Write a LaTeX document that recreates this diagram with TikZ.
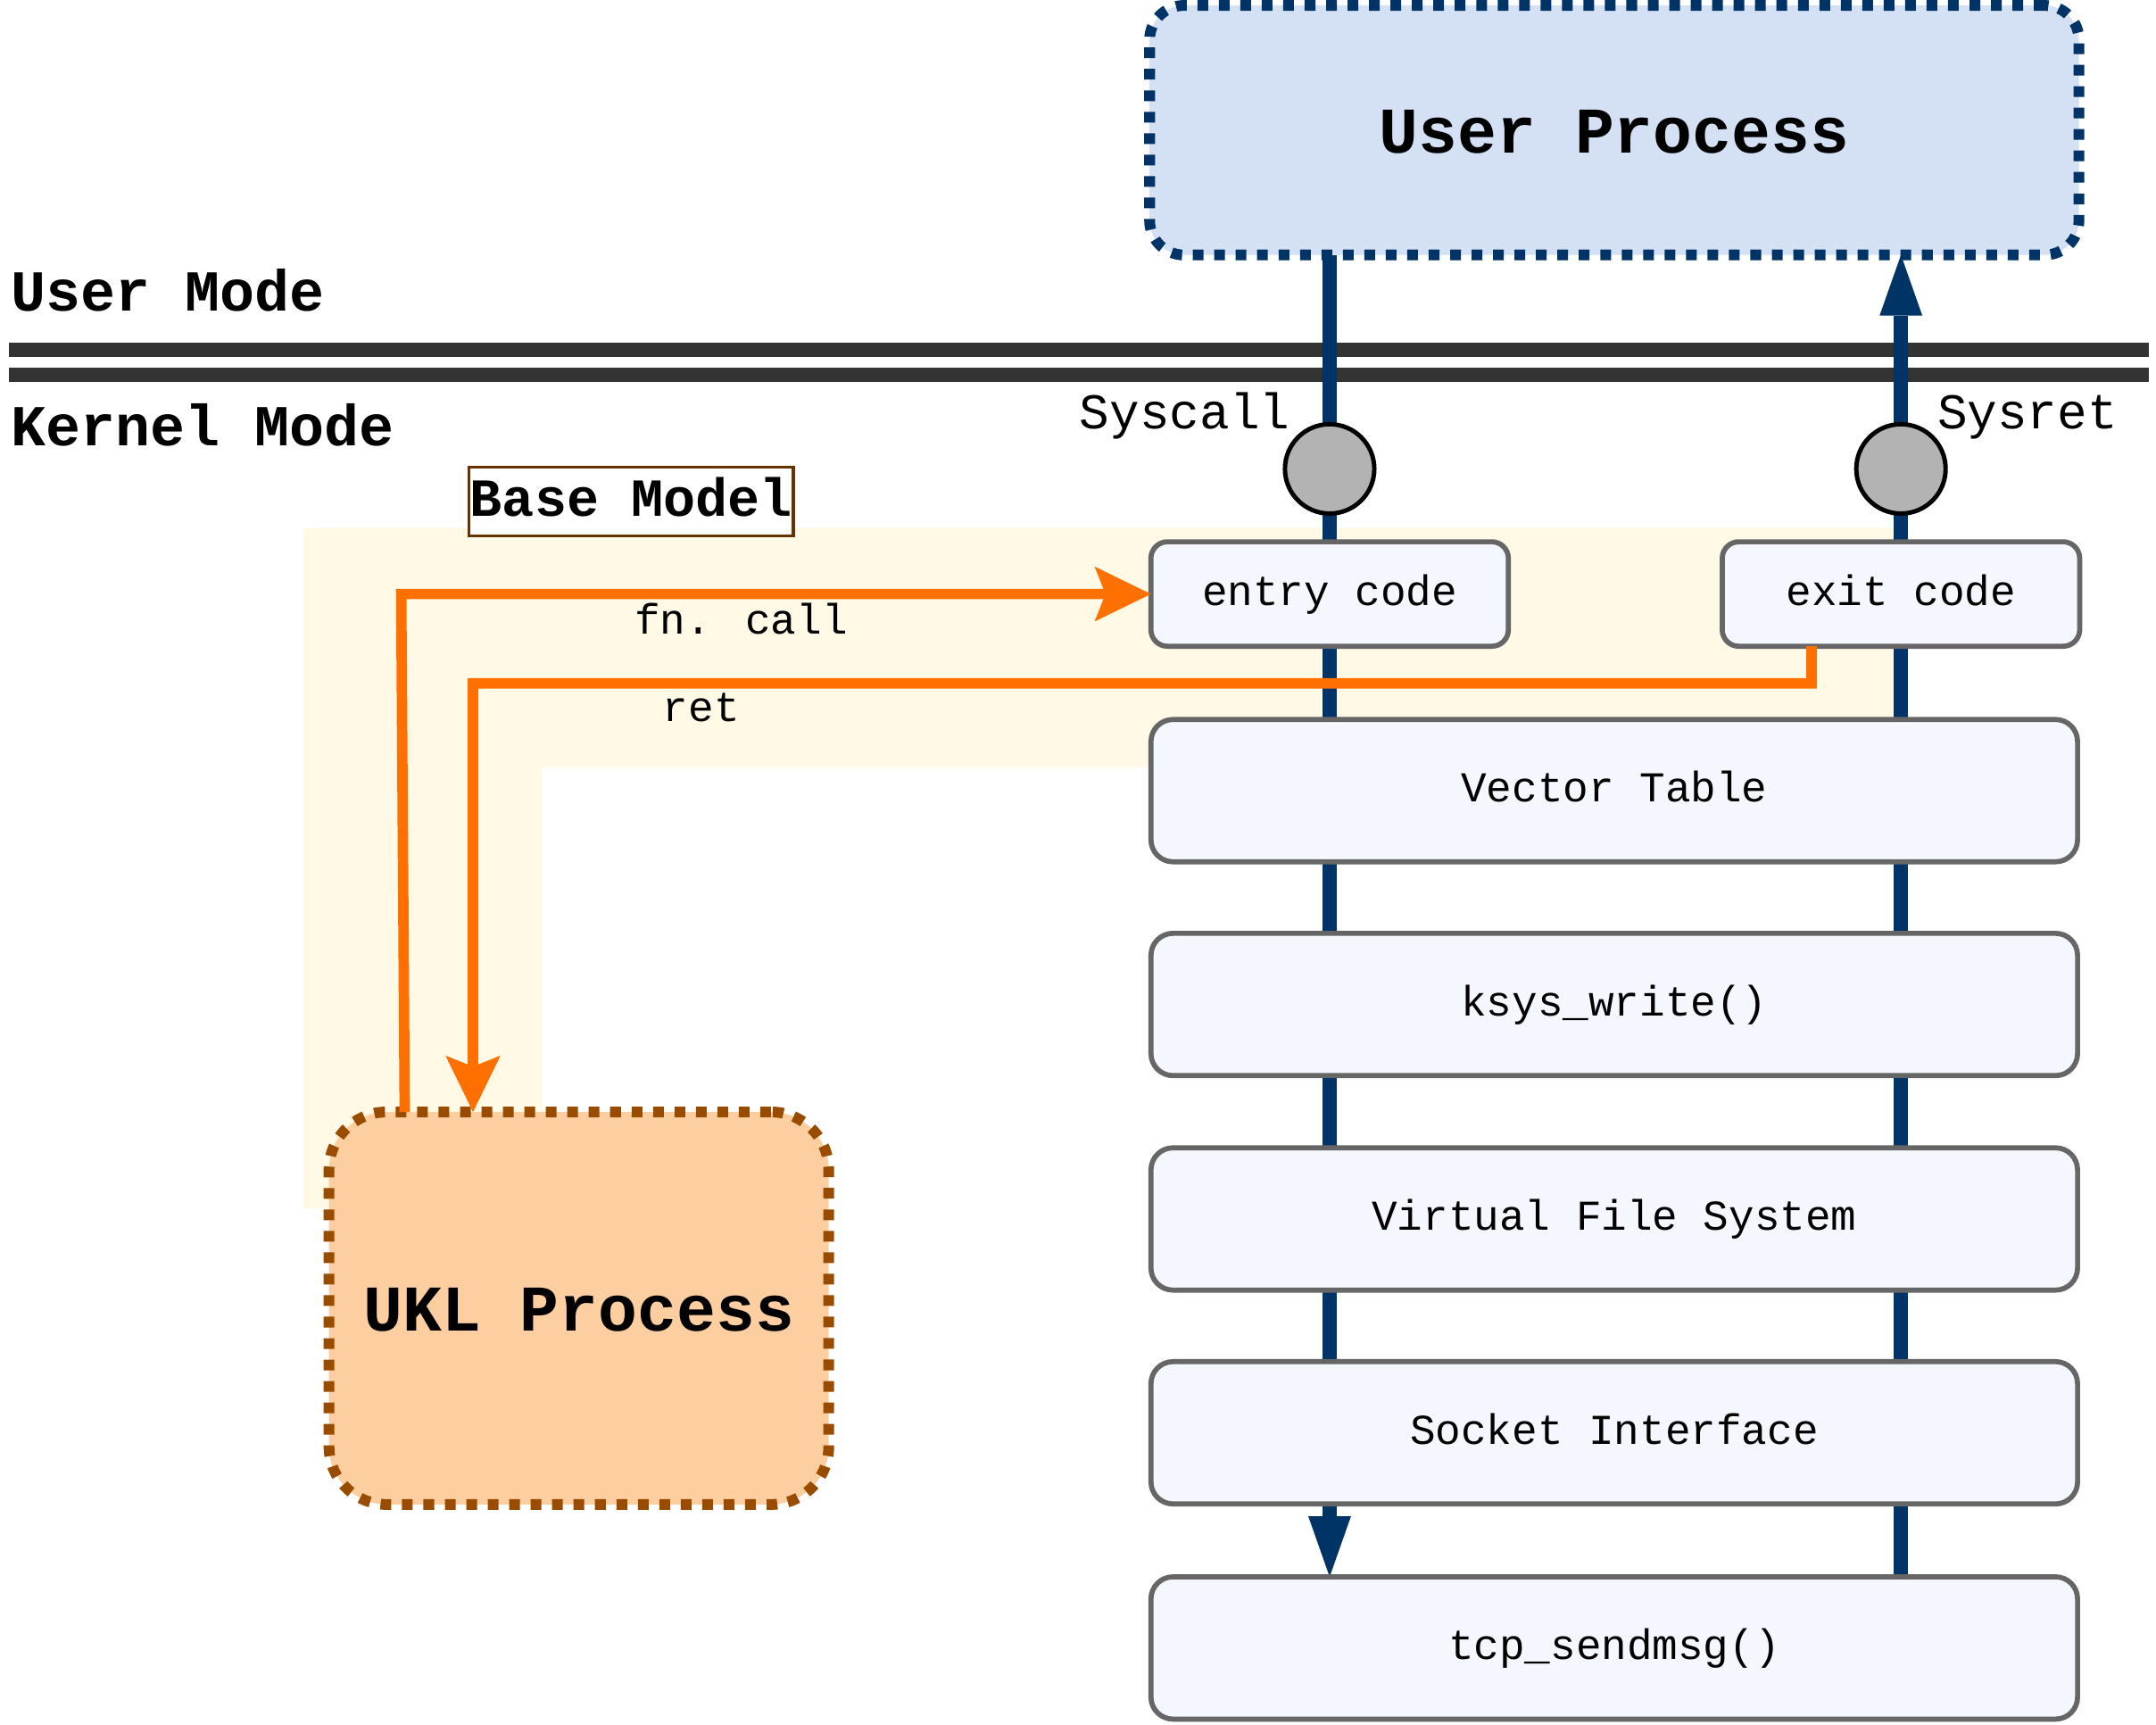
\documentclass[tikz,border=0pt]{standalone}
\usepackage{fontspec}
\setmainfont{Liberation Mono}
\usetikzlibrary{arrows.meta}

\definecolor{navy}{HTML}{003366}
\definecolor{barcol}{HTML}{333333}
\definecolor{boxedge}{HTML}{666666}
\definecolor{boxfill}{HTML}{F4F7FD}
\definecolor{upfill}{HTML}{D4E1F5}
\definecolor{uklfill}{HTML}{FDCE9F}
\definecolor{ukledge}{HTML}{994C00}
\definecolor{callorange}{HTML}{FF7000}
\definecolor{basefill}{HTML}{FFF9E6}
\definecolor{baseedge}{HTML}{663300}
\definecolor{gatefill}{HTML}{B3B3B3}

\newcommand\fsNormal{\fontsize{17.6pt}{20pt}\selectfont}
\newcommand\fsGate{\fontsize{20.7pt}{24pt}\selectfont}
\newcommand\fsMode{\bfseries\fontsize{24pt}{28pt}\selectfont}
\newcommand\fsBase{\bfseries\fontsize{22.2pt}{26pt}\selectfont}
\newcommand\fsTitle{\bfseries\fontsize{27pt}{32pt}\selectfont}

\pgfdeclarelayer{ground}
\pgfdeclarelayer{paths}
\pgfsetlayers{ground,paths,main}

\tikzset{
  layerbox/.style={draw=boxedge, line width=0.074cm, fill=boxfill,
    rounded corners=0.32cm, inner sep=0pt, outer sep=0pt,
    minimum width=13.48cm, minimum height=2.07cm,
    font=\fsNormal, text height=14.7pt, text depth=5.3pt},
  codebox/.style={layerbox, rounded corners=0.24cm,
    minimum width=5.2cm, minimum height=1.52cm},
  procbox/.style={line width=0.156cm, dash pattern=on 0.156cm off 0.156cm,
    inner sep=0pt, outer sep=0pt,
    font=\fsTitle, text height=27pt, text depth=8.1pt},
  gate/.style={circle, draw=black, line width=0.064cm, fill=gatefill,
    minimum size=1.3cm, inner sep=0pt, outer sep=0pt},
  flowline/.style={draw=navy, line width=0.208cm,
    -{Triangle[width=0.62cm, length=0.88cm, line width=0pt]}},
  callarrow/.style={draw=callorange, line width=0.152cm,
    -{Stealth[width=0.8cm, length=0.82cm, inset=0.16cm, line width=0pt]}},
  modebar/.style={draw=barcol, line width=0.208cm},
  lbl/.style={inner sep=0pt, outer sep=0pt, font=\fsNormal},
}

\begin{document}
\begin{tikzpicture}[x=0.02cm, y=-0.02cm]
  \useasboundingbox (0,0) rectangle (1568,1254);

  \begin{pgfonlayer}{ground}
    \fill[white] (0,0) rectangle (1568,1254);
    % shaded region of the base model
    \fill[basefill] (220.6,384) -- (1379,384) -- (1379,558) -- (394.6,558)
      -- (394.6,879) -- (220.6,879) -- cycle;
    % boundary between user mode and kernel mode
    \draw[modebar] (6.5,254.4) -- (1563,254.4);
    \draw[modebar] (6.5,272.6) -- (1563,272.6);
  \end{pgfonlayer}

  \node[draw=baseedge, fill=white, line width=0.04cm, inner sep=0pt,
    minimum width=4.72cm, minimum height=1cm, font=\fsBase,
    text height=18.4pt, text depth=6.7pt] (basemodel) at (459,365) {Base Model};

  \node[anchor=base west, inner sep=0pt, font=\fsMode] (usermode) at (8,226) {User Mode};
  \node[anchor=base west, inner sep=0pt, font=\fsMode] (kernelmode) at (8,324) {Kernel Mode};

  % processes
  \node[procbox, draw=navy, fill=upfill, rounded corners=0.5cm,
    minimum width=13.52cm, minimum height=3.63cm] (up) at (1174,94.7) {User Process};
  \node[procbox, draw=ukledge, fill=uklfill, rounded corners=0.84cm,
    minimum width=7.27cm, minimum height=5.71cm] (ukl) at (421,951.4) {UKL Process};

  % kernel layers
  \node[codebox] (entry) at (967,432) {entry code};
  \node[codebox] (exit) at (1382.5,432) {exit code};
  \node[layerbox] (vt) at (1174,575) {Vector Table};
  \node[layerbox] (ksys) at (1174,730.5) {ksys\_write()};
  \node[layerbox] (vfs) at (1174,886.5) {Virtual File System};
  \node[layerbox] (sock) at (1174,1042) {Socket Interface};
  \node[layerbox] (tcp) at (1174,1198.5) {tcp\_sendmsg()};

  % syscall path down and sysret path up, running behind the layers
  \begin{pgfonlayer}{paths}
    \draw[flowline] (up.south -| entry.center) -- (tcp.north -| entry.center);
    \draw[flowline] (tcp.north -| exit.center) -- (up.south -| exit.center);
  \end{pgfonlayer}

  % mode-switch gates
  \node[gate] (syscall) at (967,341) {};
  \node[gate] (sysret) at (1382.5,341) {};
  \node[lbl, font=\fsGate, anchor=base east] (syscalllbl) at (938,312) {Syscall};
  \node[lbl, font=\fsGate, anchor=base west] (sysretlbl) at (1409,312) {Sysret};

  % direct calls between the UKL process and the kernel
  \coordinate (callbend) at (291.8,432);
  \draw[callarrow] ([xshift=-2.534cm]ukl.north) -- (callbend) -- (entry.west);
  \coordinate (retdrop) at (1317.5,497);
  \coordinate (retbend) at (344,497);
  \draw[callarrow] ([xshift=-1.3cm]exit.south) -- (retdrop) -- (retbend)
    -- ([xshift=-1.54cm]ukl.north);
  \node[lbl, anchor=base] (calllbl) at (539,461) {fn. call};
  \node[lbl, anchor=base] (retlbl) at (510,525) {ret};
\end{tikzpicture}
\end{document}
